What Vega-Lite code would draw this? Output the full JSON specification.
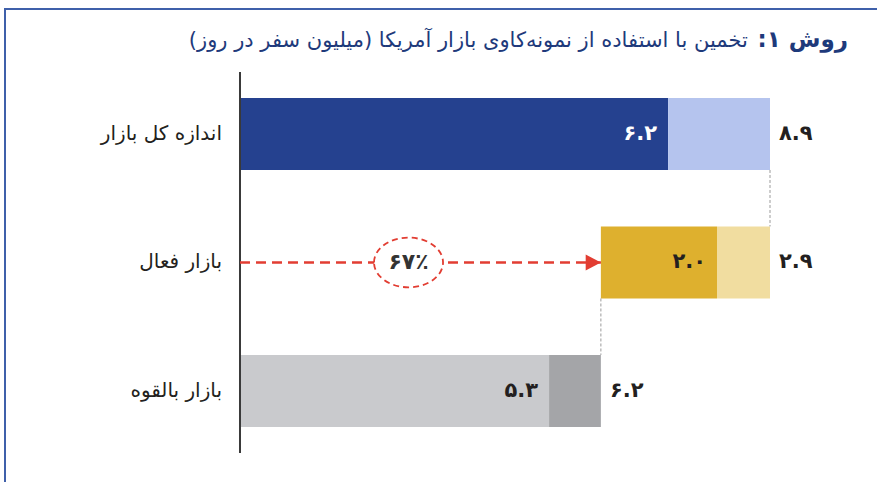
{
  "$schema": "https://vega.github.io/schema/vega-lite/v6.json",
  "width": 877,
  "height": 482,
  "autosize": {"type": "fit", "contains": "padding"},
  "padding": {"left": 5, "top": 9, "right": -6, "bottom": -6},
  "background": "white",
  "config": {
    "view": {"stroke": "#3f60aa", "strokeWidth": 2},
    "axis": {"disable": true},
    "font": "DejaVu Sans",
    "text": {"font": "DejaVu Sans"}
  },
  "title": {
    "text": "\u2067روش ۱:\u2069",
    "subtitle": "\u2067تخمین با استفاده از نمونه‌کاوی بازار آمریکا (میلیون سفر در روز)\u2069\u00a0\u00a0\u00a0\u00a0\u00a0\u00a0\u00a0\u00a0\u00a0\u00a0\u00a0\u00a0\u00a0\u00a0\u00a0\u2060",
    "anchor": "end",
    "frame": "group",
    "orient": "top",
    "offset": -43,
    "dx": -35,
    "font": "DejaVu Sans",
    "fontSize": 23,
    "fontWeight": "bold",
    "color": "#1e3a7b",
    "subtitleFont": "DejaVu Sans",
    "subtitleFontSize": 21,
    "subtitleFontWeight": "normal",
    "subtitleColor": "#1e3a7b",
    "subtitlePadding": -22
  },
  "datasets": {
    "bars": [
      {"row": "اندازه کل بازار", "part": "total-core", "start": 0, "end": 7.19, "label": "۶.۲"},
      {"row": "اندازه کل بازار", "part": "total-rest", "start": 7.19, "end": 8.9},
      {"row": "بازار فعال", "part": "active-core", "start": 6.06, "end": 8.01, "label": "۲.۰"},
      {"row": "بازار فعال", "part": "active-rest", "start": 8.01, "end": 8.9},
      {"row": "بازار بالقوه", "part": "potential-core", "start": 0, "end": 5.19, "label": "۵.۳"},
      {"row": "بازار بالقوه", "part": "potential-rest", "start": 5.19, "end": 6.06}
    ],
    "totals": [
      {"row": "اندازه کل بازار", "end": 8.9, "total": "۸.۹"},
      {"row": "بازار فعال", "end": 8.9, "total": "۲.۹"},
      {"row": "بازار بالقوه", "end": 6.06, "total": "۶.۲"}
    ],
    "axisline": [
      {"from": "اندازه کل بازار", "to": "بازار بالقوه", "at": 0}
    ],
    "connectors": [
      {"from": "اندازه کل بازار", "to": "بازار فعال", "at": 8.9},
      {"from": "بازار فعال", "to": "بازار بالقوه", "at": 6.06}
    ],
    "flow": [
      {"row": "بازار فعال", "from": 0, "to": 6.06, "share": "۶۷٪"}
    ]
  },
  "layer": [
    {
      "data": {"name": "bars"},
      "mark": {"type": "bar"},
      "encoding": {
        "y": {
          "field": "row", "type": "nominal", "axis": null,
          "scale": {
            "domain": ["اندازه کل بازار", "بازار فعال", "بازار بالقوه"],
            "paddingInner": 0.44, "paddingOuter": 0.584, "align": 0.593
          }
        },
        "x": {
          "field": "start", "type": "quantitative", "axis": null,
          "scale": {"domain": [-3.9462, 10.7975], "nice": false, "zero": false}
        },
        "x2": {"field": "end"},
        "color": {
          "field": "part", "type": "nominal", "legend": null,
          "scale": {
            "domain": ["total-core", "total-rest", "active-core", "active-rest", "potential-core", "potential-rest"],
            "range": ["#25418f", "#b5c4ee", "#deb02e", "#f1dda0", "#c9cacd", "#a4a5a8"]
          }
        }
      }
    },
    {
      "data": {"name": "connectors"},
      "mark": {"type": "rule", "color": "#9a9a9a", "strokeWidth": 1, "strokeDash": [3, 2], "yOffset": 36, "y2Offset": -36},
      "encoding": {
        "x": {"field": "at", "type": "quantitative", "axis": null},
        "y": {"field": "from", "type": "nominal", "axis": null},
        "y2": {"field": "to"}
      }
    },
    {
      "data": {"name": "axisline"},
      "mark": {"type": "rule", "color": "#3a3a3a", "strokeWidth": 2, "yOffset": -62, "y2Offset": 62},
      "encoding": {
        "x": {"field": "at", "type": "quantitative", "axis": null},
        "y": {"field": "from", "type": "nominal", "axis": null},
        "y2": {"field": "to"}
      }
    },
    {
      "data": {"name": "flow"},
      "mark": {"type": "rule", "color": "#e23d32", "strokeWidth": 2.5, "strokeDash": [10, 6]},
      "encoding": {
        "x": {"field": "from", "type": "quantitative", "axis": null},
        "x2": {"field": "to"},
        "y": {"field": "row", "type": "nominal", "axis": null}
      }
    },
    {
      "data": {"name": "flow"},
      "mark": {
        "type": "point",
        "shape": "M -1 0 C -1 -0.3977 -0.5523 -0.72 0 -0.72 C 0.5523 -0.72 1 -0.3977 1 0 C 1 0.3977 0.5523 0.72 0 0.72 C -0.5523 0.72 -1 0.3977 -1 0 Z",
        "size": 4761,
        "filled": true,
        "fill": "white",
        "fillOpacity": 1,
        "stroke": "#e23d32",
        "strokeWidth": 1.8,
        "strokeDash": [6, 4],
        "opacity": 1
      },
      "encoding": {
        "x": {"datum": 2.83, "type": "quantitative", "axis": null},
        "y": {"field": "row", "type": "nominal", "axis": null}
      }
    },
    {
      "data": {"name": "flow"},
      "mark": {"type": "text", "fontSize": 22, "fontWeight": "bold", "color": "#333333", "baseline": "middle", "align": "center"},
      "encoding": {
        "x": {"datum": 2.83, "type": "quantitative", "axis": null},
        "y": {"field": "row", "type": "nominal", "axis": null},
        "text": {"field": "share"}
      }
    },
    {
      "data": {"name": "flow"},
      "mark": {
        "type": "point",
        "shape": "M -1.9 -1 L 0 0 L -1.9 1 Z",
        "size": 256,
        "filled": true,
        "color": "#e23d32",
        "opacity": 1
      },
      "encoding": {
        "x": {"field": "to", "type": "quantitative", "axis": null},
        "y": {"field": "row", "type": "nominal", "axis": null}
      }
    },
    {
      "data": {"name": "bars"},
      "transform": [{"filter": "datum.label"}],
      "mark": {"type": "text", "align": "right", "baseline": "middle", "dx": -11, "fontSize": 21, "fontWeight": "bold"},
      "encoding": {
        "x": {"field": "end", "type": "quantitative", "axis": null},
        "y": {"field": "row", "type": "nominal", "axis": null},
        "text": {"field": "label"},
        "color": {"condition": {"test": "datum.part === 'total-core'", "value": "#ffffff"}, "value": "#231f20"}
      }
    },
    {
      "data": {"name": "totals"},
      "mark": {"type": "text", "align": "left", "baseline": "middle", "dx": 9, "fontSize": 21, "fontWeight": "bold", "color": "#231f20"},
      "encoding": {
        "x": {"field": "end", "type": "quantitative", "axis": null},
        "y": {"field": "row", "type": "nominal", "axis": null},
        "text": {"field": "total"}
      }
    },
    {
      "data": {"name": "totals"},
      "mark": {"type": "text", "align": "right", "baseline": "middle", "dx": -18, "fontSize": 20, "color": "#231f20"},
      "encoding": {
        "x": {"datum": 0, "type": "quantitative", "axis": null},
        "y": {"field": "row", "type": "nominal", "axis": null},
        "text": {"field": "row"}
      }
    }
  ]
}
